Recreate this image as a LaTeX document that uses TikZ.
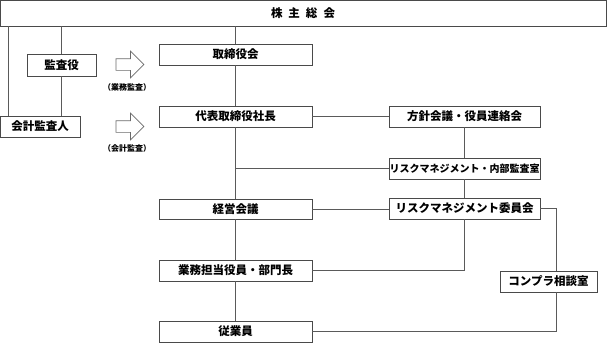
\documentclass[tikz,border=0pt]{standalone}
\usepackage{fontspec}
\usepackage{tikz}
\usetikzlibrary{positioning, shapes.arrows}
\newfontfamily\jpfont{Noto Sans CJK JP}
\definecolor{BoxInk}{HTML}{4A4A4A}
\definecolor{LinkInk}{HTML}{5A5A5A}
\definecolor{ArrowInk}{HTML}{6A6A6A}

\begin{document}
\begin{tikzpicture}[
    x=1pt, y=-1pt,
    font=\jpfont\bfseries\fontsize{11.5pt}{13pt}\selectfont,
    orgbox/.style={
      draw=BoxInk,
      line width=0.9pt,
      fill=white,
      inner sep=0pt,
      minimum height=21pt,
      minimum width=153pt,
    },
    sidebox/.style={
      orgbox,
      minimum width=151pt,
    },
    link/.style={
      draw=LinkInk,
      line width=0.8pt,
    },
    auditarrow/.style={
      single arrow,
      draw=ArrowInk,
      fill=white,
      line width=0.7pt,
      inner sep=5.5pt,
      minimum height=28pt,
      single arrow head extend=7.5pt,
    },
    note/.style={
      font=\jpfont\bfseries\fontsize{8pt}{9pt}\selectfont,
      inner sep=0pt,
    },
  ]
    \useasboundingbox (0,0) rectangle (607,343);

    % top of the tree
    \node[orgbox, minimum width=606pt, minimum height=26pt] (soukai) at (303,13)
      {株\hspace{6pt}主\hspace{6pt}総\hspace{6pt}会};

    % auditors on the left
    \node[orgbox, minimum width=69pt, minimum height=22pt] (kansayaku) at (61.5,65) {監査役};
    \node[orgbox, minimum width=80pt] (kaikei) at (40,126.5) {会計監査人};

    \node[auditarrow] (arr1) at (127,64.5) {};
    \node[note] (lab1) at (127,87) {（業務監査）};
    \node[auditarrow] (arr2) at (127,126.5) {};
    \node[note] (lab2) at (127,148) {（会計監査）};

    % main chain
    \node[orgbox] (torishimari) at (235.5,54.5) {取締役会};
    \node[orgbox] (shacho) at (235.5,116.5) {代表取締役社長};
    \node[orgbox, minimum height=20pt] (keiei) at (235.5,209) {経営会議};
    \node[orgbox] (gyomu) at (235.5,270.5) {業務担当役員・部門長};
    \node[orgbox] (jugyoin) at (235.5,331.5) {従業員};

    % right column
    \node[sidebox] (houshin) at (464.5,116.5) {方針会議・役員連絡会};
    \node[sidebox, font=\jpfont\bfseries\fontsize{10pt}{12pt}\selectfont] (naibu) at (464.5,168.5)
      {リスクマネジメント・内部監査室};
    \node[sidebox] (rmiin) at (464.5,208.5) {リスクマネジメント委員会};
    \node[orgbox, minimum width=97pt] (compla) at (548.5,281.5) {コンプラ相談室};

    \coordinate (kleft) at ([xshift=9pt]kaikei.north west);
    \coordinate (cline) at ([xshift=7.5pt]compla.north);
    \coordinate (cfoot) at ([xshift=7.5pt]compla.south);

    \draw[link] (kleft |- soukai.south) -- (kleft);
    \draw[link] (kansayaku.north |- soukai.south) -- (kansayaku.north);
    \draw[link] (kansayaku.south) -- (kansayaku.south |- kaikei.north);
    \draw[link] (torishimari.north |- soukai.south) -- (torishimari.north);
    \draw[link] (torishimari.south) -- (shacho.north);
    \draw[link] (shacho.south) -- (keiei.north);
    \draw[link] (keiei.south) -- (gyomu.north);
    \draw[link] (gyomu.south) -- (jugyoin.north);
    \draw[link] (shacho.east) -- (houshin.west);
    \draw[link] (houshin.south) -- (naibu.north);
    \draw[link] (naibu.south) -- (rmiin.north);
    \draw[link] (naibu.west) -- (naibu.west -| shacho.south);
    \draw[link] (keiei.east) -- (keiei.east -| rmiin.west);
    \draw[link] (gyomu.east) -| (rmiin.south);
    \draw[link] (rmiin.east) -| (cline);
    \draw[link] (cfoot) |- (jugyoin.east);
  \end{tikzpicture}
\end{document}
